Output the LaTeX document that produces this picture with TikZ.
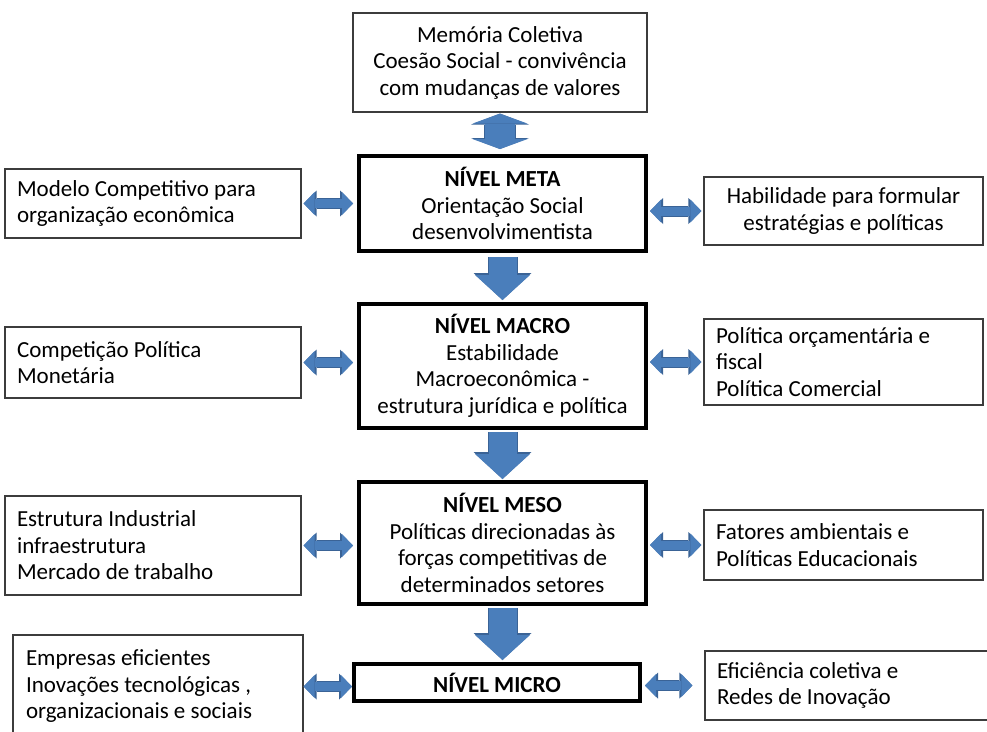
\documentclass[tikz,border=0pt]{standalone}
\usepackage{fontspec}
\setmainfont{Carlito}
\usetikzlibrary{arrows.meta}
\usetikzlibrary{positioning}
\definecolor{arrowblue}{HTML}{4A7EBB}
\definecolor{arrowedge}{HTML}{3A6396}
\definecolor{boxline}{HTML}{3C3C3C}
\tikzset {
  % any box of the diagram
  box/.style = {
    draw = black,
    rectangle,
    inner sep = 0pt,
    font = \fontsize{23}{26.5}\selectfont
  },
  % level in the middle column
  level/.style = {
    box,
    line width = 4pt,
    minimum width = 287pt,
    align = center
  },
  % factor box at the sides
  side box/.style = {
    box,
    draw = boxline,
    line width = 1.2pt,
    inner xsep = 12pt,
    align = flush left
  }
}
\tikzset {
  % blue block arrows, the darker pass gives the rim
  harr/.style = {
    draw = arrowblue,
    line width = 9pt,
    {Triangle[width=23pt,length=11pt,line width=0pt]}-{Triangle[width=23pt,length=11pt,line width=0pt]},
    preaction = {
      draw = arrowedge,
      line width = 11pt,
      {Triangle[width=26pt,length=13pt,line width=0pt]}-{Triangle[width=26pt,length=13pt,line width=0pt]}
    }
  },
  varr/.style = {
    draw = arrowblue,
    line width = 28pt,
    -{Triangle[width=55pt,length=25pt,line width=0pt]},
    preaction = {
      draw = arrowedge,
      line width = 30pt,
      -{Triangle[width=58pt,length=27pt,line width=0pt]}
    }
  },
  vdarr/.style = {
    draw = arrowblue,
    line width = 30pt,
    {Triangle[width=55pt,length=10pt,line width=0pt]}-{Triangle[width=55pt,length=10pt,line width=0pt]},
    preaction = {
      draw = arrowedge,
      line width = 32pt,
      {Triangle[width=58pt,length=11pt,line width=0pt]}-{Triangle[width=58pt,length=11pt,line width=0pt]}
    }
  }
}

\begin{document}
\begin{tikzpicture}[x=1pt, y=-1pt]
  \clip (0,0) rectangle (987,731);
  \fill[white] (0,0) rectangle (987,731);

  % middle column
  \node[box, line width=1.2pt, draw=boxline, minimum width=294pt, minimum height=99pt, align=center]
    (memo) at (500,62.5) {Memória Coletiva\\Coesão Social - convivência\\com mudanças de valores};
  \node[level, minimum height=95pt] (meta) at (502.5,203.5)
    {\textbf{NÍVEL META}\\Orientação Social\\desenvolvimentista};
  \node[level, minimum height=124pt] (macro) at (502.5,366)
    {\textbf{NÍVEL MACRO}\\Estabilidade\\Macroeconômica -\\estrutura jurídica e política};
  \node[level, minimum height=122pt] (meso) at (502.5,543)
    {\textbf{NÍVEL MESO}\\Políticas direcionadas às\\forças competitivas de\\determinados setores};
  \node[level, minimum width=286pt, minimum height=37pt] (micro) at (497,682.5)
    {\textbf{NÍVEL MICRO}};

  % left side
  \node[side box, text width=272pt, minimum height=69pt] (modelo) at (153,203.5)
    {Modelo Competitivo para\\organização econômica};
  \node[side box, text width=272pt, minimum height=71pt] (compet) at (153,362.5)
    {Competição Política\\Monetária};
  \node[side box, text width=272pt, minimum height=99pt] (estrut) at (153,545.5)
    {Estrutura Industrial\\infraestrutura\\Mercado de trabalho};
  \node[side box, text width=264pt, minimum height=103pt, inner xsep=13pt] (empresas) at (158,686.5)
    {Empresas eficientes\\Inovações tecnológicas ,\\organizacionais e sociais};

  % right side
  \node[side box, text width=255pt, minimum height=68pt, align=flush center] (habil) at (843.5,211)
    {Habilidade para formular\\estratégias e políticas};
  \node[side box, text width=255pt, minimum height=86pt] (orcam) at (843.5,362)
    {Política orçamentária e\\fiscal\\Política Comercial};
  \node[side box, text width=255pt, minimum height=70pt] (fatores) at (843.5,545)
    {Fatores ambientais e\\Políticas Educacionais};
  \node[side box, text width=261pt, minimum height=69pt] (eficien) at (847.5,685.5)
    {Eficiência coletiva e\\Redes de Inovação};

  % vertical arrows
  \draw[vdarr, shorten <=1pt, shorten >=5pt] (memo.south) -- (memo.south |- meta.north);
  \draw[varr, shorten <=4pt, shorten >=2pt] (meta.south) -- (macro.north);
  \draw[varr, shorten <=2pt, shorten >=1pt] (macro.south) -- (meso.north);
  \draw[varr, shorten <=2pt, shorten >=2pt] (meso.south) -- (meso.south |- micro.north);

  % horizontal arrows
  \draw[harr, shorten <=2pt, shorten >=4pt] (modelo.east) -- (modelo.east -| meta.west);
  \draw[harr, shorten <=2pt, shorten >=2pt] (habil.west -| meta.east) -- (habil.west);
  \draw[harr, shorten <=2pt, shorten >=4pt] (compet.east) -- (compet.east -| macro.west);
  \draw[harr, shorten <=2pt, shorten >=2pt] (orcam.west -| macro.east) -- (orcam.west);
  \draw[harr, shorten <=2pt, shorten >=4pt] (estrut.east) -- (estrut.east -| meso.west);
  \draw[harr, shorten <=2pt, shorten >=2pt] (fatores.west -| meso.east) -- (fatores.west);
  \draw[harr, shorten <=0pt, shorten >=0pt] (empresas.east) -- (empresas.east -| micro.west);
  \draw[harr, shorten <=3pt, shorten >=12pt] (micro.east |- eficien.west) -- (eficien.west);
\end{tikzpicture}
\end{document}
